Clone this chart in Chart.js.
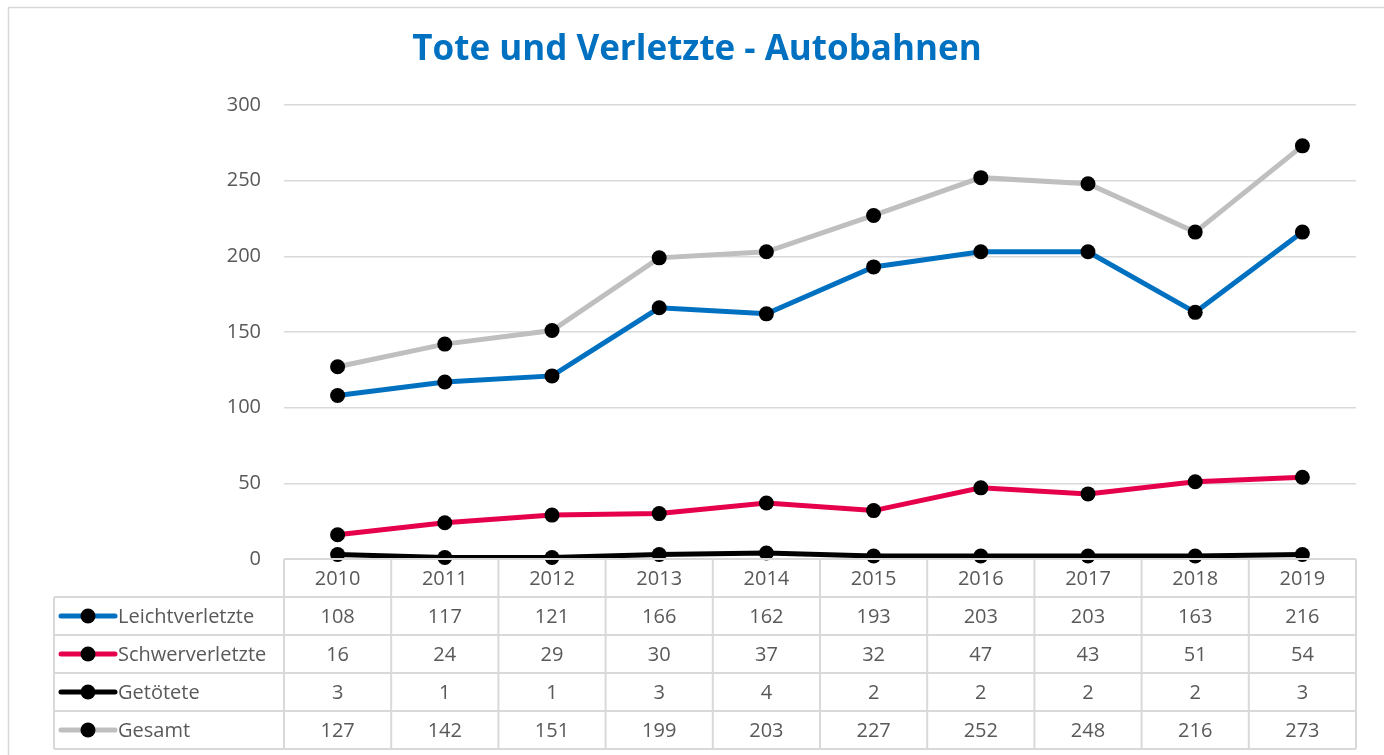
<!DOCTYPE html>
<html>
<head>
<meta charset="utf-8">
<script src="https://cdn.jsdelivr.net/npm/chart.js@4/dist/chart.umd.min.js"></script>
<style>
    html, body { margin: 0; padding: 0; background: #fff; }
    #wrap { position: relative; width: 1384px; height: 755px; }
</style>
</head>
<body>
<div id="wrap"><canvas id="chart"></canvas></div>
<script>
// Tote und Verletzte - Autobahnen

const YEARS = ['2010', '2011', '2012', '2013', '2014', '2015', '2016', '2017', '2018', '2019'];
const LEICHT = [108, 117, 121, 166, 162, 193, 203, 203, 163, 216];
const SCHWER = [16, 24, 29, 30, 37, 32, 47, 43, 51, 54];
const GETOETET = [3, 1, 1, 3, 4, 2, 2, 2, 2, 3];
const GESAMT = [127, 142, 151, 199, 203, 227, 252, 248, 216, 273];

const SERIES = [
    { label: 'Leichtverletzte', data: LEICHT, color: '#0070c0' },
    { label: 'Schwerverletzte', data: SCHWER, color: '#e6004c' },
    { label: 'Getötete', data: GETOETET, color: '#000000' },
    { label: 'Gesamt', data: GESAMT, color: '#bfbfbf' },
];

const TEXT = '#595959';
const GRID = '#d9d9d9';
const FONT = '"Open Sans", "Noto Sans", sans-serif';

// --- Plugins ---

const frame = {
    id: 'frame',
    beforeDraw(chart) {
        const ctx = chart.ctx;
        ctx.save();
        ctx.fillStyle = '#fff';
        ctx.fillRect(0, 0, chart.width, chart.height);
        ctx.strokeStyle = GRID;
        ctx.lineWidth = 1.5;
        ctx.strokeRect(8.5, 7.5, chart.width + 20, chart.height + 20);
        ctx.restore();
    },
};

// data table under the plot, columns follow the x scale
const dataTable = {
    id: 'dataTable',
    afterDraw(chart) {
        const ctx = chart.ctx;
        const x = chart.scales.x;
        const top = chart.chartArea.bottom;
        const rowH = 38;
        const half = (x.getPixelForValue(1) - x.getPixelForValue(0)) / 2;
        const left = x.getPixelForValue(0) - half;
        const right = x.getPixelForValue(YEARS.length - 1) + half;
        const tableLeft = 54;
        const bottom = top + rowH * (SERIES.length + 1);

        ctx.save();
        ctx.strokeStyle = GRID;
        ctx.lineWidth = 2;
        ctx.beginPath();
        // horizontal lines
        ctx.moveTo(left, top);
        ctx.lineTo(right, top);
        for (let r = 1; r <= SERIES.length + 1; r++) {
            const y = top + r * rowH;
            ctx.moveTo(tableLeft, y);
            ctx.lineTo(right, y);
        }
        // vertical lines
        ctx.moveTo(tableLeft, top + rowH);
        ctx.lineTo(tableLeft, bottom);
        for (let i = 0; i <= YEARS.length; i++) {
            const xx = left + i * half * 2;
            ctx.moveTo(xx, top);
            ctx.lineTo(xx, bottom);
        }
        ctx.stroke();

        ctx.fillStyle = TEXT;
        ctx.font = '20px ' + FONT;
        ctx.textAlign = 'center';
        ctx.textBaseline = 'middle';
        YEARS.forEach((yr, i) => {
            ctx.fillText(yr, x.getPixelForValue(i), top + rowH / 2 + 1);
        });

        SERIES.forEach((s, r) => {
            const cy = top + rowH * (r + 1) + rowH / 2 + 1;
            s.data.forEach((v, i) => {
                ctx.fillText(String(v), x.getPixelForValue(i), cy);
            });
            // legend key
            ctx.strokeStyle = s.color;
            ctx.lineWidth = 5;
            ctx.lineCap = 'round';
            ctx.beginPath();
            ctx.moveTo(61, cy - 1);
            ctx.lineTo(115, cy - 1);
            ctx.stroke();
            ctx.fillStyle = '#000';
            ctx.beginPath();
            ctx.arc(88, cy - 1, 7.5, 0, Math.PI * 2);
            ctx.fill();
            ctx.fillStyle = TEXT;
            ctx.textAlign = 'left';
            ctx.fillText(s.label, 118, cy);
            ctx.textAlign = 'center';
        });
        ctx.restore();
    },
};

// --- Chart ---

const datasets = SERIES.map(s => ({
    label: s.label,
    data: s.data,
    borderColor: s.color,
    backgroundColor: s.color,
    borderWidth: 5,
    pointRadius: 7.5,
    pointHoverRadius: 7.5,
    pointBackgroundColor: '#000',
    pointBorderColor: '#000',
    pointBorderWidth: 0,
    tension: 0,
    clip: false,
}));

new Chart(document.getElementById('chart'), {
    type: 'line',
    data: { labels: YEARS, datasets },
    plugins: [frame, dataTable],
    options: {
        responsive: true,
        maintainAspectRatio: false,
        animation: false,
        layout: { padding: { left: 10, right: 0, top: 0, bottom: 196 } },
        plugins: {
            legend: { display: false },
            tooltip: { enabled: false },
            title: {
                display: true,
                text: 'Tote und Verletzte - Autobahnen',
                color: '#0070c0',
                font: { family: FONT, size: 35, weight: 'bold' },
                padding: { top: 29, bottom: 34 },
            },
        },
        scales: {
            x: {
                display: false,
                offset: true,
            },
            y: {
                min: 0,
                max: 300,
                ticks: {
                    stepSize: 50,
                    color: TEXT,
                    padding: 23,
                    font: { family: FONT, size: 20 },
                },
                grid: { color: GRID, lineWidth: 1.5, drawTicks: false },
                border: { display: false },
                afterFit(scale) { scale.width = 274; },
            },
            // empty right-hand margin so the title centres on the whole frame
            yRight: {
                position: 'right',
                min: 0,
                max: 300,
                ticks: { display: false },
                grid: { display: false, drawTicks: false },
                border: { display: false },
                afterFit(scale) { scale.width = 28; },
            },
        },
    },
});
</script>
</body>
</html>
